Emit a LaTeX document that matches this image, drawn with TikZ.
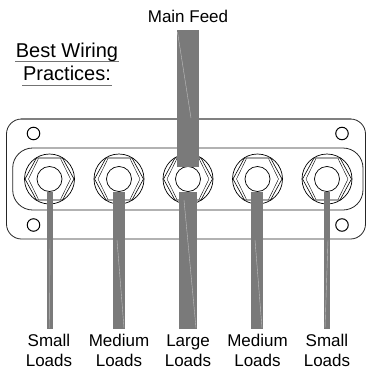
\documentclass[tikz,border=0pt]{standalone}
\usepackage{fontspec}
\setmainfont{Liberation Sans}
\tikzset{
  plateline/.style={draw=black!85,line width=0.8pt},
  hole/.style={circle,draw=black,line width=1pt,minimum size=12.5pt,inner sep=0pt},
  ring/.style={circle,draw=black,line width=0.7pt,minimum size=50pt,inner sep=0pt},
  bore/.style={circle,draw=black,line width=0.7pt,fill=white,minimum size=25pt,inner sep=0pt},
  wire/.style={fill=black!52,draw=none},
  glint/.style={draw=black!25,line width=0.4pt},
  rule/.style={draw=black!55,line width=1.2pt},
  labeltext/.style={anchor=base,inner sep=0pt,font=\fontsize{17}{20}\selectfont,text=black},
  titletext/.style={anchor=base,inner sep=0pt,font=\fontsize{20}{24}\selectfont,text=black}
}
\newcommand{\hexat}[1]{%
  \draw[black,line width=0.6pt] (#1)+(-24.5,0) -- +(-13,-21) -- +(13,-21) -- +(24.5,0) -- +(13,21) -- +(-13,21) -- cycle;
  \draw[black,line width=0.4pt] (#1)+(-21,0) -- +(-11,-20.5) (#1)+(21,0) -- +(11,-20.5) (#1)+(-21,0) -- +(-11,20.5) (#1)+(21,0) -- +(11,20.5);
}
\begin{document}
\begin{tikzpicture}[x=1pt,y=-1pt]
\useasboundingbox[fill=white] (0,0) rectangle (366,370);
% plate
\draw[plateline,rounded corners=15pt] (6.5,119) rectangle (365.5,239);
\draw[draw=black!50,line width=1.2pt] (21,119) -- (351,119);
\draw[plateline,rounded corners=20pt] (12.7,148) rectangle (363,210);
\node[hole] (h1) at (33.5,133.5) {};
\node[hole] (h2) at (33.5,225) {};
\node[hole] (h3) at (342,133.5) {};
\node[hole] (h4) at (342,225) {};
% glands
\coordinate (c1) at (49.5,179);
\coordinate (c2) at (119,179);
\coordinate (c3) at (188,179);
\coordinate (c4) at (257.5,179);
\coordinate (c5) at (327,179);
\foreach \n in {1,...,5}{
  \node[ring] (r\n) at (c\n) {};
  \hexat{c\n}
  \node[bore] (b\n) at (c\n) {};
}
% labels
\node[labeltext] (f) at (188,22.7) {Main Feed};
\node[titletext] (t1) at (67,57) {Best Wiring};
\node[titletext] (t2) at (67,80) {Practices:};
\draw[rule] (15,61.5) -- (119,61.5);
\draw[rule] (22,85.5) -- (112,85.5);
\foreach \x/\a/\n in {49/Small/a,119/Medium/b,188/Large/c,257.5/Medium/d,327/Small/e}{
  \node[labeltext] (l\n) at (\x,346) {\a};
  \node[labeltext] (m\n) at (\x,366.7) {Loads};
}
% wires
\fill[wire] (46.5,192) rectangle (52.7,328.5);
\fill[wire] (112.7,192) rectangle (125,328.5);
\fill[wire] (179,192) rectangle (196.7,328.5);
\fill[wire] (251,192) rectangle (263.3,328.5);
\fill[wire] (323.5,192) rectangle (329.7,328.5);
\fill[wire] (177,30) rectangle (199,167);
% faint streaks
\draw[glint] (177.5,32) -- (191,118);
\draw[glint] (50,240) -- (49.5,328);
\draw[glint] (117,240) -- (124,328);
\draw[glint] (184,200) -- (196,328);
\draw[glint] (255,240) -- (262,328);
\draw[glint] (328,240) -- (325,328);
\end{tikzpicture}
\end{document}
